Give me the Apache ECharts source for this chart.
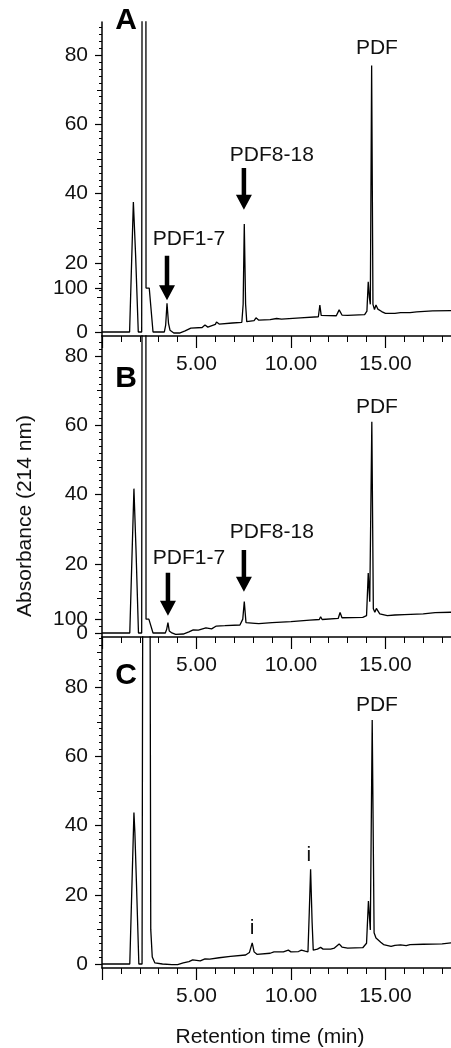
<!DOCTYPE html>
<html><head><meta charset="utf-8">
<script src="https://cdn.jsdelivr.net/npm/echarts@6/dist/echarts.min.js"></script>
<style>html,body{margin:0;padding:0;background:#fff}#c{width:451px;height:1048px}</style>
</head><body><div id="c"></div>
<script>
// ---- data (retention time min, absorbance) ----
const traceA = [[0,0],[1.46,0],[1.66,37.6],[1.78,22],[1.92,0],[2.1,0],[2.16,300],[2.31,300],[2.33,12.7],[2.5,12.7],[2.7,0],[3.3,0],[3.37,2],[3.44,8.3],[3.52,2.5],[3.6,0.5],[3.8,-0.3],[4.1,-0.3],[4.4,0.3],[4.7,1.1],[5.3,1.3],[5.45,2],[5.6,1.4],[6.0,2.2],[6.06,2.9],[6.2,2.3],[6.9,2.6],[7.4,2.8],[7.47,8],[7.53,31.2],[7.6,8],[7.66,3],[8.05,3.3],[8.15,4.1],[8.3,3.4],[8.9,3.6],[9.24,3.9],[9.5,3.7],[10.5,4.1],[11.45,4.4],[11.53,7.8],[11.6,4.8],[11.7,4.5],[12.4,4.7],[12.55,6.4],[12.7,4.9],[13.0,4.8],[13.9,5],[14.02,6],[14.09,14.5],[14.15,10],[14.2,8],[14.27,77],[14.34,8],[14.42,6.5],[14.5,7.8],[14.6,6.6],[14.8,5.9],[15.0,5.4],[15.5,5.4],[15.8,5.6],[16.3,5.6],[16.65,5.8],[17.5,6.1],[18.5,6.2]];
const traceB = [[0,0],[1.47,0],[1.69,41.7],[1.8,24],[1.93,0],[2.1,0],[2.16,300],[2.31,300],[2.33,4],[2.48,4],[2.7,0],[3.35,0],[3.42,1],[3.49,3.0],[3.56,0.6],[3.7,0],[3.9,-0.4],[4.3,-0.3],[4.6,0.3],[4.83,0.9],[5.1,0.8],[5.5,1.5],[5.8,1.2],[6.05,2],[6.5,2.1],[7.3,2.3],[7.45,4],[7.53,9.1],[7.62,3],[7.7,2.5],[8.1,2.8],[8.3,2.7],[9,3],[10,3.3],[11,3.7],[11.5,3.9],[11.57,4.7],[11.65,3.9],[12.5,4.2],[12.6,5.9],[12.7,4.4],[13.8,4.5],[14.0,5],[14.09,17.3],[14.17,9],[14.28,61],[14.36,7],[14.44,6],[14.52,7.1],[14.7,5.5],[15.1,5],[15.5,5.2],[16,5.3],[17,5.5],[17.63,5.9],[18.5,6]];
const traceC = [[0,0],[1.47,0],[1.69,43.8],[1.74,38],[1.82,24],[1.95,0],[2.12,0],[2.22,300],[2.47,300],[2.58,10],[2.66,2],[2.8,0.3],[3.2,0],[3.7,-0.2],[4.0,-0.2],[4.3,0.3],[4.6,0.7],[4.8,1.2],[4.9,0.8],[5.2,0.9],[5.45,1.5],[5.7,1.4],[6.2,1.8],[6.8,2.2],[7.6,2.6],[7.8,3.3],[7.95,6.1],[8.05,3.5],[8.2,2.8],[8.9,3.1],[9.1,3.5],[9.6,3.5],[9.7,3.1],[9.86,4],[10.0,3.5],[10.4,3.6],[10.55,4],[10.75,3.7],[10.9,3.5],[10.97,15],[11.04,27.4],[11.12,12],[11.18,4],[11.4,4.3],[11.57,4.8],[11.7,4.3],[12.1,4.3],[12.3,4.6],[12.55,5.8],[12.7,4.9],[13.0,4.6],[13.8,4.7],[14.0,6],[14.1,18.2],[14.2,9.8],[14.3,70.5],[14.4,9],[14.5,7.5],[14.6,7.2],[14.75,6.3],[14.9,5.6],[15.0,5.2],[15.3,5.1],[15.5,5.4],[15.8,5.5],[16.1,5.3],[16.3,5.6],[17,5.7],[18,5.8],[18.5,6.1]];

const yTickLabels = [0, 20, 40, 60, 80];
const xTickLabels = [5, 10, 15];
const panelLetters = ['A', 'B', 'C'];
// extra "100" tick level of each panel (value on the panel's own scale), null = none
const extraLevel = [12.7, 4, null];
// peak labels [panel, text, x, y]
const peakLabels = [
  [0, 'PDF', 14.55, 82.1], [0, 'PDF8-18', 8.99, 51.2], [0, 'PDF1-7', 4.6, 26.9],
  [1, 'PDF', 14.55, 65.3], [1, 'PDF8-18', 8.99, 29.2], [1, 'PDF1-7', 4.6, 21.7],
  [2, 'PDF', 14.55, 74.9], [2, 'i', 7.94, 10.4], [2, 'i', 10.95, 31.5]
];
// arrows [panel, x, yTop, yTip]
const arrows = [[0, 3.44, 22, 9.2], [0, 7.51, 47.4, 35.3], [1, 3.49, 17.4, 5.0], [1, 7.51, 24, 11.9]];

const traces = [traceA, traceB, traceC];
const xMax = 18.47;
const yMin = -1.16;
const yMax = [89.6, 85.8, 94.5];
const gridTop = [22, 336, 637];
const gridH = [314, 301, 331];
const FONT = 'Liberation Sans, Arial, Helvetica, sans-serif';

const chart = echarts.init(document.getElementById('c'), null, {renderer: 'canvas'});
const grids = [], xAxes = [], yAxes = [], series = [];
const xMajor = [0, 5, 10, 15], xMinor = [];
for (let v = 1; v <= xMax; v++) if (v % 5 !== 0) xMinor.push(v);
for (let g = 0; g < 3; g++) {
  grids.push({left: 102, right: 0, top: gridTop[g], height: gridH[g], containLabel: false});
  xAxes.push({
    type: 'value', gridIndex: g, position: 'bottom', min: 0, max: xMax,
    axisLine: {onZero: false, lineStyle: {color: '#000', width: 1.5}},
    axisTick: {customValues: xMajor, length: 12, lineStyle: {color: '#000', width: 1.2}},
    splitLine: {show: false},
    axisLabel: {customValues: xTickLabels, color: '#111', fontSize: 21, fontFamily: FONT, margin: 18,
      formatter: v => v.toFixed(2)}
  });
  xAxes.push({
    type: 'value', gridIndex: g, position: 'bottom', min: 0, max: xMax,
    axisLine: {show: false, onZero: false},
    axisTick: {customValues: xMinor, length: 6, lineStyle: {color: '#000', width: 1}},
    splitLine: {show: false}, axisLabel: {show: false}
  });
  const majors = yTickLabels.filter(v => v <= yMax[g]);
  const minors = [], mediums = [];
  for (let v = 0; v <= yMax[g]; v += 2) { if (v % 10 !== 0) minors.push(v); }
  for (let v = 10; v <= yMax[g]; v += 20) mediums.push(v);
  const majorTicks = majors.slice();
  if (extraLevel[g] !== null) majorTicks.push(extraLevel[g]);
  yAxes.push({
    type: 'value', gridIndex: g, position: 'left', min: yMin, max: yMax[g],
    axisLine: {show: true, onZero: false, lineStyle: {color: '#000', width: 1.5}},
    axisTick: {show: true, customValues: majorTicks, length: 7, lineStyle: {color: '#000', width: 1.2}},
    axisLabel: {customValues: majors, color: '#111', fontSize: 21, fontFamily: FONT, margin: 14},
    splitLine: {show: false}
  });
  yAxes.push({
    type: 'value', gridIndex: g, position: 'left', min: yMin, max: yMax[g],
    axisLine: {show: false, onZero: false},
    axisTick: {show: true, customValues: minors, length: 3, lineStyle: {color: '#000', width: 1}},
    axisLabel: {show: false}, splitLine: {show: false}
  });
  yAxes.push({
    type: 'value', gridIndex: g, position: 'left', min: yMin, max: yMax[g],
    axisLine: {show: false, onZero: false},
    axisTick: {show: true, customValues: mediums, length: 5, lineStyle: {color: '#000', width: 1}},
    axisLabel: {show: extraLevel[g] !== null, customValues: extraLevel[g] !== null ? [extraLevel[g]] : [],
      formatter: () => '100', color: '#111', fontSize: 21, fontFamily: FONT, margin: 14},
    splitLine: {show: false}
  });
  series.push({
    type: 'line', xAxisIndex: 2 * g, yAxisIndex: 3 * g, data: traces[g],
    showSymbol: false, symbol: 'none', clip: true, animation: false,
    lineStyle: {color: '#000', width: 1.3}
  });
}

chart.setOption({
  animation: false,
  backgroundColor: '#fff',
  grid: grids, xAxis: xAxes, yAxis: yAxes, series: series
});

const gfx = [];
const px = (g, p) => chart.convertToPixel({seriesIndex: g}, p);
peakLabels.forEach(([g, t, x, y]) => {
  const p = px(g, [x, y]);
  gfx.push({type: 'text', x: p[0], y: p[1], z: 10,
    style: {text: t, fill: '#111', font: '21px ' + FONT, align: 'center', verticalAlign: 'middle'}});
});
arrows.forEach(([g, x, yTop, yTip]) => {
  const a = px(g, [x, yTop]), b = px(g, [x, yTip]);
  const cx = a[0], hw = 2.25, hh = 15, hx = 8;
  gfx.push({type: 'polygon', z: 10, shape: {points: [
    [cx - hw, a[1]], [cx + hw, a[1]], [cx + hw, b[1] - hh], [cx + hx, b[1] - hh],
    [cx, b[1]], [cx - hx, b[1] - hh], [cx - hw, b[1] - hh]]}, style: {fill: '#000'}});
});
const letterPos = [[126, 21], [126, 379], [126, 676]];
panelLetters.forEach((L, i) => {
  gfx.push({type: 'text', x: letterPos[i][0], y: letterPos[i][1], z: 10,
    style: {text: L, fill: '#000', font: 'bold 30px ' + FONT, align: 'center', verticalAlign: 'middle'}});
});
gfx.push({type: 'text', x: 25, y: 516, rotation: Math.PI / 2, z: 10,
  style: {text: 'Absorbance (214 nm)', fill: '#111', font: '21px ' + FONT, align: 'center', verticalAlign: 'middle'}});
gfx.push({type: 'text', x: 270, y: 1037, z: 10,
  style: {text: 'Retention time (min)', fill: '#111', font: '21px ' + FONT, align: 'center', verticalAlign: 'middle'}});
chart.setOption({graphic: gfx});
</script>
</body></html>
